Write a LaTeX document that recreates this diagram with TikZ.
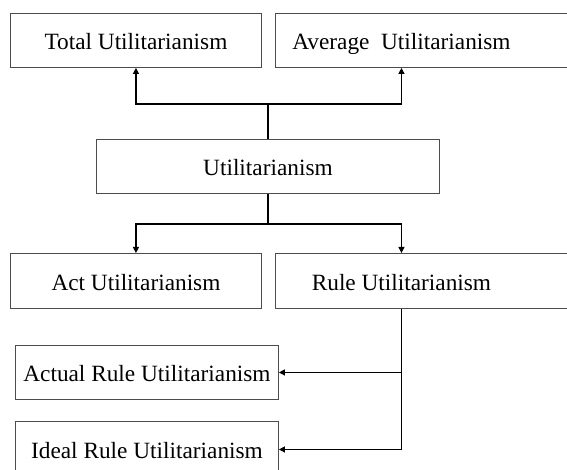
\documentclass[tikz,border=0pt]{standalone}
\usepackage{fontspec}
\setmainfont{Liberation Serif}
\usepackage{tikz}
\usetikzlibrary{arrows.meta,positioning,calc}

\begin{document}
\begin{tikzpicture}[
  x=1pt, y=-1pt,
  font=\fontsize{23.3}{28}\selectfont,
  classbox/.style={
    draw=black!70,
    line width=0.9pt,
    minimum height=54pt,
    text height=19pt,
    text depth=0pt,
    align=center,
    inner sep=0pt,
    anchor=north west
  },
  openbox/.style={classbox, draw=none},
  frame/.style={draw=black!70, line width=0.9pt},
  flow/.style={-{Triangle[length=6pt,width=6pt]}, line width=1.2pt, draw=black}
]

% page size of the reference, boxes on the right run off the edge
\useasboundingbox (0,0) rectangle (567,470);
\clip (0,0) rectangle (567,470);

% top row
\node[classbox, minimum width=251pt] (total) at (10,13) {Total Utilitarianism};
\node[openbox, minimum width=252pt] (average) at (275,13) {Average~ Utilitarianism};
\draw[frame] ([xshift=60pt]average.north east) -- (average.north west)
  -- (average.south west) -- ([xshift=60pt]average.south east);

% middle
\node[classbox, minimum width=343pt] (util) at (96,139) {Utilitarianism};

% second row
\node[classbox, minimum width=251pt, minimum height=55pt] (act) at (10,253) {Act Utilitarianism};
\node[openbox, minimum width=252pt, minimum height=55pt] (rule) at (275,253) {Rule Utilitarianism};
\draw[frame] ([xshift=60pt]rule.north east) -- (rule.north west)
  -- (rule.south west) -- ([xshift=60pt]rule.south east);

% kinds of rule utilitarianism
\node[classbox, minimum width=263pt] (actual) at (15,345) {Actual Rule Utilitarianism};
\node[classbox, minimum width=263pt, minimum height=56pt] (ideal) at (15,421) {Ideal Rule Utilitarianism};

% junctions
\coordinate (upsplit) at (util.north |- 0,104);
\coordinate (downsplit) at (util.south |- 0,224);

\draw[flow] (util.north) -- (upsplit) -| (total.south);
\draw[flow] (upsplit) -| (average.south);
\draw[flow] (util.south) -- (downsplit) -| (act.north);
\draw[flow] (downsplit) -| (rule.north);
\draw[flow] (rule.south) |- (actual.east);
\draw[flow] (rule.south) |- (ideal.east);

\end{tikzpicture}
\end{document}
